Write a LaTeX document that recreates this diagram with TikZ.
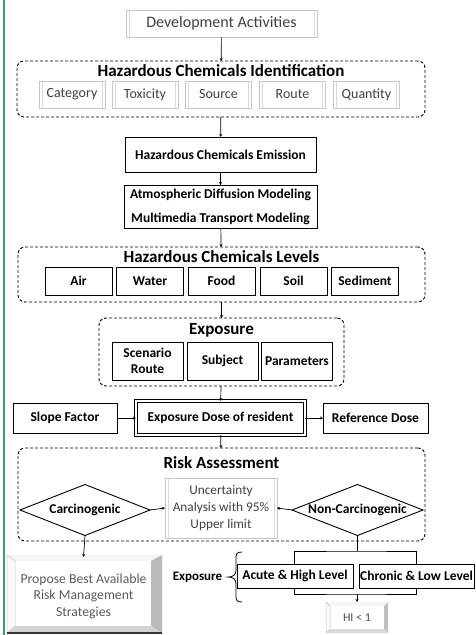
\documentclass[tikz,border=0pt]{standalone}
\usepackage{fontspec}
\setmainfont{Carlito}
\usetikzlibrary{shapes.geometric,arrows.meta,calc}
\definecolor{edgegreen}{RGB}{60,160,110}
\begin{document}
\begin{tikzpicture}[x=1pt,y=-1pt,
  every node/.style={inner sep=0pt, outer sep=0pt, align=center},
  wh/.style 2 args={minimum width=#1pt, minimum height=#2pt},
  bbox/.style={draw=black, line width=0.9pt, fill=white, font=\fontsize{13.5}{15}\selectfont\bfseries},
  lbox/.style={draw=gray!45, line width=0.6pt, fill=white, text=black!75, font=\fontsize{13.5}{17}\selectfont},
  grp/.style={draw=black, dash pattern=on 3pt off 2pt, line width=0.9pt, rounded corners=7pt},
  ttl/.style={font=\fontsize{17}{19}\selectfont\bfseries},
  conn/.style={line width=0.7pt, -{Stealth[length=3pt,width=3pt]}},
  plainline/.style={line width=0.8pt},
  dia/.style={draw=black, line width=0.9pt, shape=diamond, aspect=2.55, fill=white, font=\fontsize{13.5}{15}\selectfont\bfseries},
  bevl/.style={draw=gray!30, line width=0.5pt},
]
\useasboundingbox (0,0) rectangle (475,635);
\draw[edgegreen, line width=1.6pt] (4,0) -- (4,635);

% Development activities
\node[lbox, wh={191}{27}, font=\fontsize{16}{18}\selectfont] (dev) at (221.5,23.5) {Development Activities};
\draw[bevl] ([xshift=3pt]dev.north west) -- ([xshift=3pt]dev.south west);
\draw[bevl] ([xshift=-3pt]dev.north east) -- ([xshift=-3pt]dev.south east);

% Identification
\node[grp, wh={408}{56}] (hci) at (221,89) {};
\node[ttl] (hcit) at (221,70.5) {Hazardous Chemicals Identification};
\foreach \n/\x/\t in {cat/72/Category, tox/145/Toxicity, src/218.5/Source, rte/292.5/Route, qty/366.5/Quantity}{
  \node[lbox, wh={66}{27}, font=\fontsize{14}{16}\selectfont] (\n) at (\x,94.5) {\t};
  \draw[bevl] ([xshift=3pt]\n.north west) -- ([xshift=3pt]\n.south west);
  \draw[bevl] ([xshift=-3pt]\n.north east) -- ([xshift=-3pt]\n.south east);
}

% Emission and modelling
\node[bbox, wh={191}{35}] (emi) at (220.5,154.5) {Hazardous Chemicals Emission};
\node[bbox, wh={193}{43}] (mod) at (220.5,206.5) {Atmospheric Diffusion Modeling\\[9pt]Multimedia Transport Modeling};

% Levels
\node[grp, wh={407}{55}] (hcl) at (221.5,274.5) {};
\node[ttl] (hclt) at (221.5,257) {Hazardous Chemicals Levels};
\foreach \n/\x/\t in {air/78.5/Air, wat/150/Water, food/221.5/Food, soil/293.5/Soil, sed/365/Sediment}{
  \node[bbox, wh={67}{28}] (\n) at (\x,281) {\t};
}

% Exposure
\node[grp, wh={245}{68}] (exg) at (221.5,352) {};
\node[ttl] (exgt) at (221.5,330) {Exposure};
\node[bbox, wh={71}{38}, font=\fontsize{13.5}{16}\selectfont\bfseries] (scen) at (147.5,361) {Scenario\\Route};
\node[bbox, wh={71}{38}] (subj) at (222.5,361) {Subject};
\node[bbox, wh={71}{38}] (para) at (297,361) {Parameters};

% Dose row
\node[bbox, double, double distance=2.2pt, line width=0.8pt, wh={169}{34}] (dose) at (220.5,418) {Exposure Dose of resident};
\node[bbox, wh={104}{30}] (slope) at (65,418) {Slope Factor};
\node[bbox, wh={105}{30}] (ref) at (375.5,418) {Reference Dose};

% Risk assessment
\node[grp, wh={407}{93}] (risk) at (221.5,494.5) {};
\node[ttl] (riskt) at (221.5,463) {Risk Assessment};
\node[dia, minimum width=130pt, minimum height=51pt] (carc) at (85,510) {Carcinogenic};
\node[dia, minimum width=131pt, minimum height=51pt] (nc) at (357.5,510) {Non-Carcinogenic};
\node[lbox, wh={112}{60}, font=\fontsize{13.3}{17}\selectfont] (unc) at (221,508) {Uncertainty\\Analysis with 95\%\\Upper limit};
\draw[bevl] ([xshift=3pt]unc.north west) -- ([xshift=3pt]unc.south west);
\draw[bevl] ([xshift=-3pt]unc.north east) -- ([xshift=-3pt]unc.south east);

% Propose box (bevel)
\fill[gray!8] (7,555) -- (162,555) -- (151,561) -- (15,561) -- cycle;
\filldraw[fill=gray!4, draw=gray!45, line width=0.5pt] (7,555) -- (15,561) -- (15,626) -- (7,633) -- cycle;
\fill[gray!55] (162,555) -- (162,633) -- (151,626) -- (151,561) -- cycle;
\fill[gray!35] (7,633) -- (162,633) -- (151,626) -- (15,626) -- cycle;
\draw[black!80, line width=1.2pt] (7,633) -- (162,633);
\node[wh={155}{78}, text=black!65, font=\fontsize{13.7}{16.5}\selectfont] (prop) at (83.5,596) {Propose Best Available\\Risk Management\\Strategies};

% Non-carcinogenic branch
\node[bbox, wh={116}{24}] (acute) at (295,576) {Acute \& High Level};
\node[bbox, wh={115}{24}] (chron) at (416.5,576) {Chronic \& Low Level};
\fill[gray!8] (326,602) -- (388,602) -- (384,606) -- (330,606) -- cycle;
\filldraw[fill=gray!4, draw=gray!45, line width=0.5pt] (326,602) -- (330,606) -- (330,629) -- (326,633) -- cycle;
\fill[gray!50] (388,602) -- (388,633) -- (384,629) -- (384,606) -- cycle;
\fill[gray!30] (326,633) -- (388,633) -- (384,629) -- (330,629) -- cycle;
\node[wh={62}{31}, text=black!70, font=\fontsize{12}{14}\selectfont] (hi) at (357,617.5) {HI < 1};
\node[font=\fontsize{13}{15}\selectfont\bfseries] (expl) at (197.5,577) {Exposure};
\draw[line width=0.8pt] (242,552) .. controls (236,552) and (236,554) .. (236,560)
  -- (236,570) .. controls (236,575) and (233,577) .. (228,577)
  .. controls (233,577) and (236,579) .. (236,584)
  -- (236,594) .. controls (236,600) and (236,602) .. (242,602);

\coordinate (nctop) at (357.5,551);
\coordinate (ncbot) at (357,594);
\draw[plainline] (nc.south) -- (nctop);
\draw[plainline] (acute.north -| 294,0) |- (nctop) -| (chron.north);
\draw[plainline] (acute.south -| 294,0) |- (ncbot) -| (chron.south);
\draw[conn] (ncbot) -- (hi.north);

% Connectors
\draw[conn] (dev) -- (hci);
\draw[conn] (hci) -- (emi);
\draw[conn] (emi) -- (mod);
\draw[conn] (mod) -- (hcl);
\draw[conn] (hcl) -- (exg);
\draw[conn] (exg) -- (dose);
\draw[conn] (dose) -- (risk);
\draw[conn] (slope) -- (dose);
\draw[conn] (dose) -- (ref);
\draw[conn] (carc.east) -- (unc.west);
\draw[conn] (nc.west) -- (unc.east);
\draw[conn] (carc.south) -- (prop.north);
\end{tikzpicture}
\end{document}
